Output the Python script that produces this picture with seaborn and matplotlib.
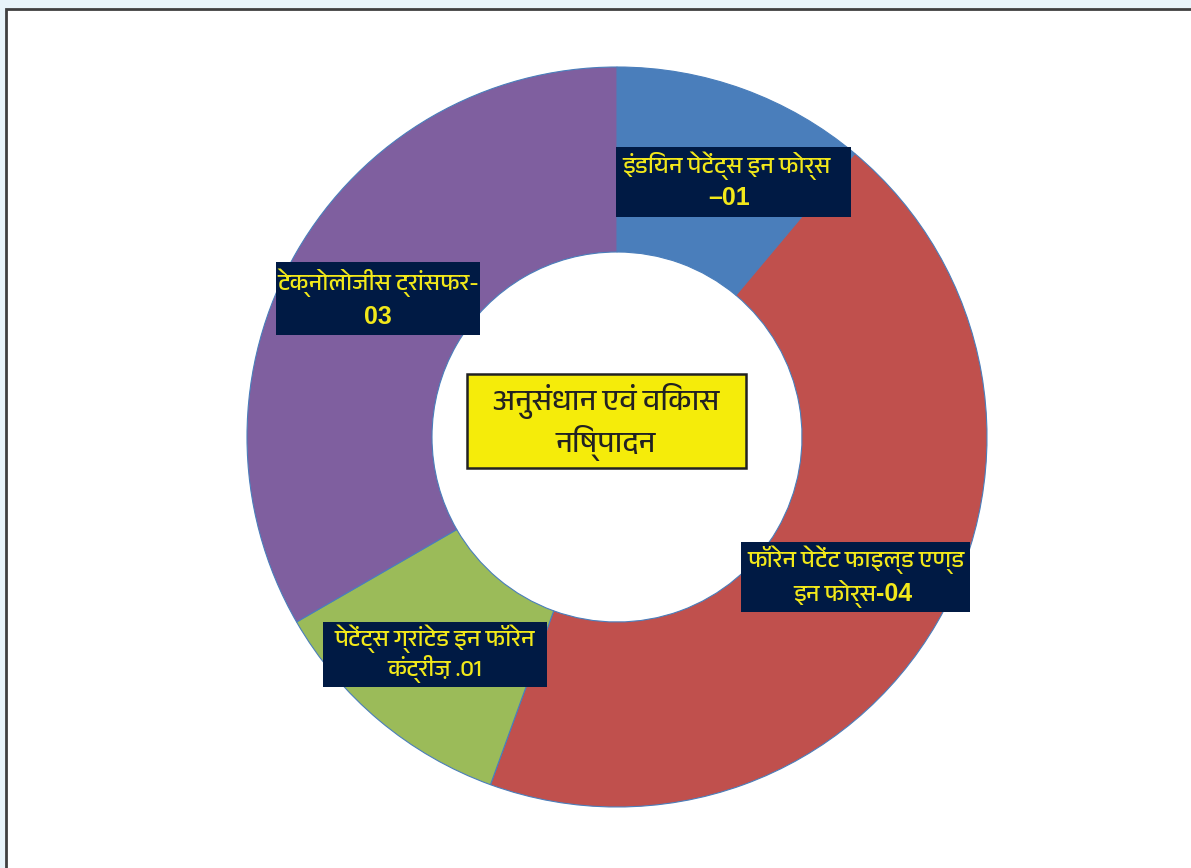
import matplotlib
matplotlib.use("Agg")
import matplotlib.pyplot as plt
import seaborn as sns
from matplotlib import font_manager
from matplotlib.ft2font import FT2Font
from matplotlib.patches import Rectangle

# dados do grafico
categorias = ["इंडियन पेटेंट्स इन फोर्स", "फॉरेन पेटेंट फाइल्ड एण्ड इन फोर्स",
              "पेटेंट्स ग्रांटेड इन फॉरेन कंट्रीज़", "टेक्नोलोजीस ट्रांसफर"]
valores = [1, 4, 1, 3]
cores = ["#4a7ebb", "#c0504d", "#9bbb59", "#7f5f9f"]
titulo_centro = "अनुसंधान एवं विकास\nनिष्पादन"


def achar_fonte_devanagari():
    # procura uma fonte que tenha glifos devanagari
    for f in font_manager.fontManager.ttflist:
        if "Devanagari" in f.name:
            return f.name
    for f in font_manager.fontManager.ttflist:
        try:
            if 0x0915 in FT2Font(f.fname).get_charmap():
                return f.name
        except Exception:
            pass
    return "DejaVu Sans"


sns.set_theme(style="white")
fonte_hi = achar_fonte_devanagari()
plt.rcParams["font.family"] = [fonte_hi, "DejaVu Sans"]

W, H = 1191, 868
fig = plt.figure(figsize=(W / 100, H / 100), dpi=100, facecolor="#e8f4fa")
ax = fig.add_axes([0, 0, 1, 1])

ax.pie(valores, colors=cores, startangle=-90, counterclock=True,
       center=(617, 437), radius=370,
       wedgeprops=dict(width=185, edgecolor="#4a7ebb", linewidth=0.8))

ax.set_xlim(0, W)
ax.set_ylim(H, 0)
ax.axis("off")

# moldura branca
ax.add_patch(Rectangle((6, 9), W + 20, H + 20, facecolor="white",
                       edgecolor="#404040", linewidth=2, zorder=0))

amarelo = "#f2e81a"
navy = "#001a44"
num = "Liberation Sans"

# caixas dos rotulos (x0, y0, x1, y1)
caixas = [(616, 147, 851, 217), (741, 542, 970, 612),
          (323, 622, 547, 687), (276, 262, 480, 335)]
for x0, y0, x1, y1 in caixas:
    ax.add_patch(Rectangle((x0, y0), x1 - x0, y1 - y0, facecolor=navy,
                           edgecolor="none", zorder=3))

fs = 17
fn = 18
# azul
ax.text(727, 166, "इंडियन पेटेंट्स इन फोर्स", color=amarelo, fontsize=fs,
        ha="center", va="center", zorder=4)
ax.text(729, 198, "–01", color=amarelo, fontsize=fn, fontweight="bold",
        family=num, ha="center", va="center", zorder=4)
# vermelho
ax.text(856, 560, "फॉरेन पेटेंट फाइल्ड एण्ड", color=amarelo, fontsize=fs,
        ha="center", va="center", zorder=4)
ax.text(876, 594, "इन फोर्स", color=amarelo, fontsize=fs,
        ha="right", va="center", zorder=4)
ax.text(876, 594, "-04", color=amarelo, fontsize=fn, fontweight="bold",
        family=num, ha="left", va="center", zorder=4)
# verde
ax.text(435, 639, "पेटेंट्स ग्रांटेड इन फॉरेन", color=amarelo, fontsize=fs,
        ha="center", va="center", zorder=4)
ax.text(435, 669, "कंट्रीज़ .01", color=amarelo, fontsize=fs,
        ha="center", va="center", zorder=4)
# roxo
ax.text(378, 283, "टेक्नोलोजीस ट्रांसफर-", color=amarelo, fontsize=fs,
        ha="center", va="center", zorder=4)
ax.text(378, 317, "03", color=amarelo, fontsize=fn, fontweight="bold",
        family=num, ha="center", va="center", zorder=4)

# caixa central
ax.add_patch(Rectangle((467, 374), 279, 94, facecolor="#f5ec0a",
                       edgecolor="#222222", linewidth=1.8, zorder=3))
ax.text(606, 422, titulo_centro, color="#222222", fontsize=21,
        ha="center", va="center", linespacing=1.25, zorder=4)

fig.savefig("out.png", dpi=100, facecolor=fig.get_facecolor())
